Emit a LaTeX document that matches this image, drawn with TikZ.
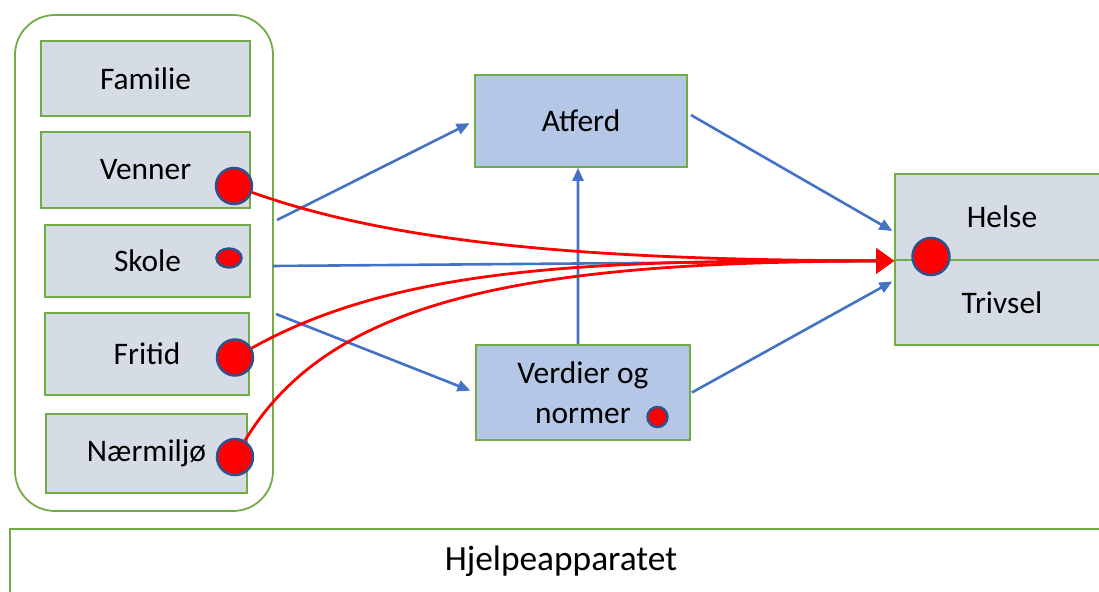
\documentclass[tikz,border=0pt]{standalone}
\usepackage{fontspec}
\setmainfont{Carlito}
\usetikzlibrary{arrows.meta,positioning,shapes.geometric}
\definecolor{boxgrey}{RGB}{214,220,229}
\definecolor{boxblue}{RGB}{180,199,231}
\definecolor{ogreen}{RGB}{112,173,71}
\definecolor{oblue}{RGB}{68,114,196}
\definecolor{dotrim}{RGB}{47,82,143}

\begin{document}
\begin{tikzpicture}[x=1bp,y=-1bp,>={Triangle[length=13bp,width=11bp]},
  font=\fontsize{31.5}{40}\selectfont]
  \tikzstyle{factor}=[draw=ogreen,line width=1.8bp,fill=boxgrey,inner sep=0pt,align=center]
  \tikzstyle{mediator}=[factor,fill=boxblue]
  \tikzstyle{riskdot}=[circle,draw=dotrim,line width=2.5bp,fill=red,inner sep=0pt,minimum size=36bp]
  \tikzstyle{smalldot}=[riskdot,minimum size=20bp]
  \tikzstyle{link}=[oblue,line width=2.6bp,->]
  \tikzstyle{risk}=[red,line width=2.8bp,-{Triangle[length=18bp,width=25bp]}]
  \useasboundingbox (0,0) rectangle (1099,592);

  % left column
  \node[draw=ogreen,line width=1.8bp,rounded corners=40bp,minimum width=258bp,minimum height=496bp] (milieu) at (144,263) {};
  \node[factor,minimum width=209bp,minimum height=75bp] (familie) at (145.5,78.5) {Familie};
  \node[factor,minimum width=209bp,minimum height=76bp] (venner) at (145.5,170) {Venner};
  \node[factor,minimum width=205bp,minimum height=72bp] (skole) at (147.5,261) {Skole};
  \node[factor,minimum width=204bp,minimum height=82bp] (fritid) at (147,354) {Fritid};
  \node[factor,minimum width=201bp,minimum height=79bp] (naermiljo) at (146.5,453.5) {Nærmiljø};

  % middle and right
  \node[mediator,minimum width=212bp,minimum height=92bp] (atferd) at (581,121) {Atferd};
  \node[mediator,minimum width=214bp,minimum height=95bp] (verdier) at (583,392.5) {Verdier og\\normer};
  \node[factor,minimum width=214bp,minimum height=86bp] (helse) at (1002,217) {Helse};
  \node[factor,minimum width=214bp,minimum height=85bp] (trivsel) at (1002,302.5) {Trivsel};

  % bottom
  \draw[ogreen,line width=1.8bp,fill=white] (10,529) rectangle (1120,620);
  \node[anchor=base,font=\fontsize{35.5}{40}\selectfont] (hjelp) at (561,570) {Hjelpeapparatet};

  \coordinate (m1) at (277,220);
  \coordinate (m2) at (273,266);
  \coordinate (m3) at (276,314);

  \path[link]
  (m1) edge[shorten >=5bp] (atferd.west)
  (m3) edge[shorten >=5bp] (verdier.west)
  (m2) edge (helse.south west)
  ([xshift=-5bp]verdier.north) edge ([xshift=-3bp]atferd.south)
  ([xshift=3bp,yshift=6bp]atferd.east) edge[shorten >=2bp] ([yshift=-15bp]helse.west)
  ([xshift=1bp]verdier.east) edge[shorten >=2bp] ([yshift=22bp]trivsel.west);

  % dots
  \node[riskdot] (dvenner) at (234,186) {};
  \node[riskdot,ellipse,minimum width=25bp,minimum height=19bp] (dskole) at (229,258) {};
  \node[riskdot] (dfritid) at (235,357.5) {};
  \node[riskdot] (dnaer) at (235,457) {};
  \node[riskdot,minimum size=37bp] (dhelse) at (931,256.5) {};
  \node[smalldot] (dverdier) at (657.5,417) {};

  \draw[risk] (dvenner) .. controls (400,245) and (600,260) .. (helse.south west);
  \draw[risk] (dfritid) .. controls (400,265) and (600,260) .. (helse.south west);
  \draw[risk] (dnaer) .. controls (330,300) and (520,262) .. (helse.south west);
\end{tikzpicture}
\end{document}
